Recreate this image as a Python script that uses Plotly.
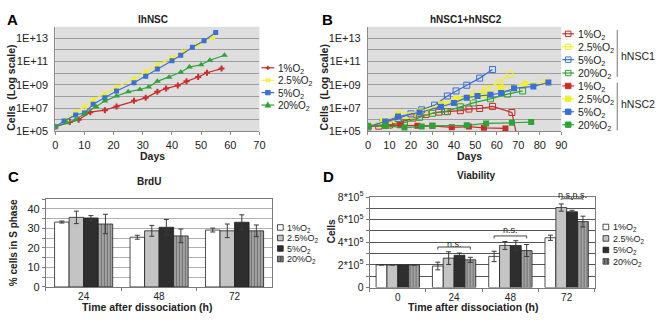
import plotly.graph_objects as go

W, H = 661, 320
FONT = "Liberation Sans"

# ---------------- Panel A: IhNSC (cells, log scale) ----------------
a_days_1 = [0, 5, 8, 12, 17, 21, 27, 31, 35, 38, 42, 45, 49, 52, 57]
a_cells_1 = [2.5e5, 6.3e5, 1.0e6, 4.5e6, 6.6e6, 1.4e7, 4.2e7, 7.6e7, 2.5e8, 4.8e8,
             8.9e8, 2.0e9, 4.8e9, 1.1e10, 2.5e10]
a_days_25 = [0, 4, 7, 10, 13, 17, 21, 27, 31, 35, 40, 44, 49, 54]
a_cells_25 = [2.5e5, 1.0e6, 4.5e6, 1.4e7, 5.2e7, 1.8e8, 6.3e8, 3.3e9, 1.4e10, 5.0e10,
              2.1e11, 7.1e11, 2.8e12, 1.2e13]
a_days_5 = [0, 3, 7, 10, 13, 17, 21, 27, 31, 35, 40, 43, 47, 51, 55]
a_cells_5 = [2.5e5, 7.6e5, 2.6e6, 3.8e6, 2.2e7, 7.9e7, 3.0e8, 1.5e9, 5.6e9, 2.3e10,
             1.2e11, 3.5e11, 1.7e12, 6.3e12, 3.2e13]
a_days_20 = [0, 4, 7, 10, 14, 17, 21, 25, 29, 32, 35, 39, 43, 46, 50, 53, 58]
a_cells_20 = [2.5e5, 5.5e5, 1.0e6, 3.2e6, 1.3e7, 4.0e7, 1.1e8, 2.5e8, 4.0e8, 6.5e8,
              2.0e9, 4.6e9, 1.2e10, 3.4e10, 5.4e10, 1.3e11, 3.5e11]

# ---------------- Panel B: hNSC1 (open) + hNSC2 (filled) ----------------
b1_days_1 = [0, 5, 10, 15, 21, 27, 33, 37, 43, 47, 52, 58, 67, 70]
b1_cells_1 = [2.5e5, 2.8e5, 3.5e5, 6.3e5, 1.4e6, 2.8e6, 4.5e6, 5.0e6, 6.0e6, 8.3e6,
              9.3e6, 1.4e7, 4.2e6, 1.0e4]
b1_days_25 = [0, 7, 14, 21, 28, 35, 42, 49, 55, 61, 66]
b1_cells_25 = [2.5e5, 4.0e5, 8.9e5, 2.2e6, 5.6e6, 2.0e7, 5.6e7, 1.6e8, 4.5e8, 1.6e9, 7.9e9]
b1_days_5 = [0, 7, 14, 20, 25, 31, 37, 41, 46, 52, 58]
b1_cells_5 = [2.5e5, 5.6e5, 1.3e6, 3.2e6, 7.1e6, 1.8e7, 1.1e8, 3.0e8, 9.3e8, 3.8e9, 2.1e10]
b1_days_20 = [0, 8, 17, 24, 30, 36, 43, 49, 57, 65, 72]
b1_cells_20 = [2.5e5, 3.2e5, 5.6e5, 1.6e6, 3.6e6, 5.0e6, 1.3e7, 2.8e7, 6.3e7, 1.6e8, 3.0e8]

b2_days_1 = [0, 8, 15, 23, 30, 39, 47, 54, 64]
b2_cells_1 = [2.6e5, 3.5e5, 3.3e5, 3.0e5, 3.0e5, 2.2e5, 2.6e5, 2.0e5, 1.8e5]
b2_days_25 = [0, 7, 14, 24, 34, 41, 47, 54, 62, 73, 83]
b2_cells_25 = [2.6e5, 7.9e5, 3.2e6, 5.0e6, 2.1e7, 6.3e7, 8.5e7, 1.4e8, 5.8e8, 1.2e9, 1.8e9]
b2_days_5 = [0, 8, 14, 24, 34, 40, 46, 51, 57, 62, 68, 77, 84]
b2_cells_5 = [2.6e5, 7.1e5, 1.9e6, 4.2e6, 1.3e7, 2.8e7, 7.9e7, 1.1e8, 1.4e8, 2.0e8,
              5.0e8, 7.4e8, 1.6e9]
b2_days_20 = [0, 8, 17, 25, 30, 46, 55, 67, 76]
b2_cells_20 = [3.0e5, 3.0e5, 2.1e5, 2.6e5, 3.0e5, 3.3e5, 4.8e5, 5.5e5, 6.3e5]

log_tickvals = [1e5, 1e6, 1e7, 1e8, 1e9, 1e10, 1e11, 1e12, 1e13, 1e14]
log_ticktext = ["1E+05", "", "1E+07", "", "1E+09", "", "1E+11", "", "1E+13", ""]

# ---------------- Panel C: BrdU ----------------
c_times = ["24", "48", "72"]
c_1 = [33.3, 25.5, 29.2]
c_1_err = [0.5, 1.0, 1.0]
c_25 = [35.7, 28.8, 28.8]
c_25_err = [3.2, 2.8, 3.5]
c_5 = [35.4, 30.6, 33.2]
c_5_err = [1.2, 4.0, 3.8]
c_20 = [32.3, 26.2, 28.8]
c_20_err = [5.0, 3.5, 3.0]
c_tickvals = [0, 5, 10, 15, 20, 25, 30, 35, 40, 45]
c_ticktext = ["0", "", "10", "", "20", "", "30", "", "40", ""]

# ---------------- Panel D: Viability ----------------
d_times = ["0", "24", "48", "72"]
d_1 = [2.0e5, 1.9e5, 2.75e5, 4.4e5]
d_1_err = [None, 0.34e5, 0.46e5, 0.23e5]
d_25 = [2.0e5, 2.6e5, 3.72e5, 7.07e5]
d_25_err = [None, 0.56e5, 0.35e5, 0.32e5]
d_5 = [2.0e5, 2.85e5, 3.72e5, 6.7e5]
d_5_err = [None, 0.2e5, 0.42e5, 0.13e5]
d_20 = [2.0e5, 2.45e5, 3.27e5, 5.83e5]
d_20_err = [None, 0.22e5, 0.53e5, 0.48e5]
d_tickvals = [0, 1e5, 2e5, 3e5, 4e5, 5e5, 6e5, 7e5, 8e5]
d_ticktext = ["0", "", "2*10<sup>5</sup>", "", "4*10<sup>5</sup>", "",
              "6*10<sup>5</sup>", "", "8*10<sup>5</sup>"]

labels = ["1%O<sub>2</sub>", "2.5%O<sub>2</sub>", "5%O<sub>2</sub>", "20%O<sub>2</sub>"]

RED, YEL, BLU, GRN = "#cc2b2b", "#f2ef2a", "#3b6fd6", "#2ea336"
WHITE, LGRAY, DGRAY, STRIPE = "#ffffff", "#c4c4c4", "#2e2e2e", "#9a9a9a"


def px(x):
    return x / W


def py(y):
    return 1 - y / H


fig = go.Figure()

# ---- A traces
for d, c, col, sym, sz in [
    (a_days_1, a_cells_1, RED, "cross", 5),
    (a_days_25, a_cells_25, YEL, "x", 5),
    (a_days_5, a_cells_5, BLU, "square", 5),
    (a_days_20, a_cells_20, GRN, "triangle-up", 6),
]:
    fig.add_trace(go.Scatter(x=d, y=c, mode="lines+markers", xaxis="x", yaxis="y",
                             line=dict(color=col, width=1.2),
                             marker=dict(symbol=sym, size=sz, color=col, line=dict(width=0))))

# ---- B traces
for d, c, col in [(b1_days_1, b1_cells_1, RED), (b1_days_25, b1_cells_25, YEL),
                  (b1_days_5, b1_cells_5, BLU), (b1_days_20, b1_cells_20, GRN)]:
    fig.add_trace(go.Scatter(x=d, y=c, mode="lines+markers", xaxis="x2", yaxis="y2",
                             line=dict(color=col, width=1.2),
                             marker=dict(symbol="square-open", size=6, color=col,
                                         line=dict(width=1, color=col))))
for d, c, col in [(b2_days_1, b2_cells_1, RED), (b2_days_25, b2_cells_25, YEL),
                  (b2_days_5, b2_cells_5, BLU), (b2_days_20, b2_cells_20, GRN)]:
    fig.add_trace(go.Scatter(x=d, y=c, mode="lines+markers", xaxis="x2", yaxis="y2",
                             line=dict(color=col, width=1.2),
                             marker=dict(symbol="square", size=6, color=col)))

# ---- C and D bars
err_style = dict(type="data", color="#3a3a3a", thickness=1, width=2.5)
bar_styles = [
    dict(color=WHITE, line=dict(color="#222", width=0.8)),
    dict(color=LGRAY, line=dict(color="#222", width=0.8)),
    dict(color=DGRAY, line=dict(color="#222", width=0.8)),
    dict(color=STRIPE, line=dict(color="#222", width=0.8),
         pattern=dict(shape="|", fgcolor="#3a3a3a", bgcolor="#a8a8a8", size=3, solidity=0.4)),
]
for vals, errs, st in zip([c_1, c_25, c_5, c_20], [c_1_err, c_25_err, c_5_err, c_20_err], bar_styles):
    fig.add_trace(go.Bar(x=c_times, y=vals, xaxis="x3", yaxis="y3", marker=st,
                         error_y=dict(array=errs, **err_style)))
for vals, errs, st in zip([d_1, d_25, d_5, d_20], [d_1_err, d_25_err, d_5_err, d_20_err], bar_styles):
    fig.add_trace(go.Bar(x=d_times, y=vals, xaxis="x4", yaxis="y4", marker=st,
                         error_y=dict(array=errs, **err_style)))

BARGAP = 0.23
tickfont = dict(family=FONT, size=11, color="#222")
bartickfont = dict(family=FONT, size=10, color="#222")

fig.update_layout(
    width=W, height=H, margin=dict(l=0, r=0, t=0, b=0),
    paper_bgcolor="white", plot_bgcolor="white", showlegend=False,
    font=dict(family=FONT, size=10, color="#222"),
    barmode="group", bargap=BARGAP, bargroupgap=0,
    xaxis=dict(domain=[px(53), px(260)], anchor="y", range=[0, 70], tick0=0, dtick=10,
               showgrid=False, zeroline=False, showline=True, linecolor="#8a8a8a",
               ticks="outside", ticklen=3, tickcolor="#8a8a8a", tickfont=tickfont),
    yaxis=dict(domain=[py(129), py(19.6)], anchor="x", type="log", range=[5, 14],
               tickvals=log_tickvals, ticktext=log_ticktext, showgrid=True,
               gridcolor="#9c9c9c", gridwidth=1, zeroline=False, showline=True,
               linecolor="#8a8a8a", ticks="", tickfont=tickfont, ticklabelstandoff=4),
    xaxis2=dict(domain=[px(370), px(566)], anchor="y2", range=[0, 90], tick0=0, dtick=10,
                showgrid=False, zeroline=False, showline=True, linecolor="#8a8a8a",
                ticks="outside", ticklen=3, tickcolor="#8a8a8a", tickfont=tickfont),
    yaxis2=dict(domain=[py(129), py(19.6)], anchor="x2", type="log", range=[5, 14],
                tickvals=log_tickvals, ticktext=log_ticktext, showgrid=True,
                gridcolor="#9c9c9c", gridwidth=1, zeroline=False, showline=True,
                linecolor="#8a8a8a", ticks="", tickfont=tickfont, ticklabelstandoff=4),
    xaxis3=dict(domain=[px(43.5), px(273)], anchor="y3", type="category",
                categoryorder="array", categoryarray=c_times, showgrid=False,
                showline=True, mirror=True, linecolor="#7a7a7a", ticks="outside",
                tickson="boundaries", ticklen=3, tickcolor="#7a7a7a", tickfont=bartickfont,
                ticklabelstandoff=0),
    yaxis3=dict(domain=[py(291.7), py(200)], anchor="x3", range=[0, 45],
                tickvals=c_tickvals, ticktext=c_ticktext, showgrid=True,
                gridcolor="#b0b0b0", gridwidth=1, zeroline=False, showline=True,
                mirror=True, linecolor="#7a7a7a", ticks="outside", ticklen=3,
                tickcolor="#7a7a7a", tickfont=tickfont),
    xaxis4=dict(domain=[px(371.7), px(600)], anchor="y4", type="category",
                categoryorder="array", categoryarray=d_times, showgrid=False,
                showline=True, mirror=True, linecolor="#7a7a7a", ticks="outside",
                tickson="boundaries", ticklen=3, tickcolor="#7a7a7a", tickfont=bartickfont,
                ticklabelstandoff=0),
    yaxis4=dict(domain=[py(292.3), py(197.7)], anchor="x4", range=[0, 8e5],
                tickvals=d_tickvals, ticktext=d_ticktext, showgrid=True,
                gridcolor="#555555", gridwidth=1, zeroline=False, showline=True,
                mirror=True, linecolor="#7a7a7a", ticks="outside", ticklen=3,
                tickcolor="#7a7a7a", tickfont=dict(family=FONT, size=10.5, color="#222")),
)

shapes = []
# gray plot backgrounds for A and B
for xr, yr in [("x domain", "y domain"), ("x2 domain", "y2 domain")]:
    shapes.append(dict(type="rect", xref=xr, yref=yr, x0=0, x1=1, y0=0, y1=1,
                       fillcolor="#dedede", line=dict(width=0), layer="below"))


def pline(x0, y0, x1, y1, color, width=1.2):
    shapes.append(dict(type="line", xref="paper", yref="paper", x0=px(x0), y0=py(y0),
                       x1=px(x1), y1=py(y1), line=dict(color=color, width=width)))


def prect(x0, y0, x1, y1, line, fill, width=1):
    shapes.append(dict(type="rect", xref="paper", yref="paper", x0=px(x0), y0=py(y0),
                       x1=px(x1), y1=py(y1), line=dict(color=line, width=width),
                       fillcolor=fill))


def ptri(cx, cy, s, color):
    path = "M {:.5f},{:.5f} L {:.5f},{:.5f} L {:.5f},{:.5f} Z".format(
        px(cx - s / 2), py(cy + s / 2.5), px(cx + s / 2), py(cy + s / 2.5), px(cx), py(cy - s / 1.7))
    shapes.append(dict(type="path", xref="paper", yref="paper", path=path,
                       fillcolor=color, line=dict(color=color, width=0.5)))


annotations = []


def ptext(x, y, text, size=10.5, xanchor="left", yanchor="middle", angle=0, color="#222"):
    annotations.append(dict(x=px(x), y=py(y), xref="paper", yref="paper", text=text,
                            showarrow=False, xanchor=xanchor, yanchor=yanchor,
                            textangle=angle, font=dict(family=FONT, size=size, color=color)))


# ---- Legend A
rowsA = [62.5, 75.5, 88.5, 101.5]
colsA = [RED, YEL, BLU, GRN]
for i, (r, col) in enumerate(zip(rowsA, colsA)):
    pline(262, r, 275, r, col)
    cx = 268.5
    if i == 0:
        pline(cx - 2.2, r, cx + 2.2, r, col, 1.6)
        pline(cx, r - 2.2, cx, r + 2.2, col, 1.6)
    elif i == 1:
        pline(cx - 2, r - 2, cx + 2, r + 2, col, 1.4)
        pline(cx - 2, r + 2, cx + 2, r - 2, col, 1.4)
    elif i == 2:
        prect(cx - 2.3, r - 2.3, cx + 2.3, r + 2.3, col, col)
    else:
        ptri(cx, r, 6, col)
    ptext(277, r + 1, labels[i], size=10)

# ---- Legend B
rowsB = [27, 40.5, 54, 68, 81.5, 95, 108.5, 122]
for i, r in enumerate(rowsB):
    col = colsA[i % 4]
    pline(567, r, 579, r, col)
    if i < 4:
        prect(570.2, r - 2.8, 575.8, r + 2.8, col, "rgba(0,0,0,0)", 1)
    else:
        prect(570.2, r - 2.8, 575.8, r + 2.8, col, col, 1)
    ptext(581, r + 1, labels[i % 4])
pline(622.7, 23, 622.7, 72, "#777", 1)
pline(622.7, 78, 622.7, 128, "#777", 1)
ptext(624.5, 50, "hNSC1", size=10.5)
ptext(624.5, 100, "hNSC2", size=10.5)

# ---- Legends C, D


def bar_legend(x0, rows, textx):
    fills = [WHITE, LGRAY, DGRAY, "#a8a8a8"]
    for i, r in enumerate(rows):
        prect(x0, r - 2.9, x0 + 5.8, r + 2.9, "#222", fills[i], 0.8)
        if i == 3:
            for dx in (1.5, 3.0, 4.5):
                pline(x0 + dx, r - 2.5, x0 + dx, r + 2.5, "#333", 0.8)
        ptext(textx, r + 1, labels[i], size=9)


bar_legend(278.3, [229.5, 240.5, 251.5, 262.5], 286)
bar_legend(608.3, [229, 241, 253, 265], 616)

# ---- Titles and axis titles
ptext(152, 12, "<b>IhNSC</b>", size=10, xanchor="center")
ptext(469, 12.5, "<b>hNSC1+hNSC2</b>", size=10, xanchor="center")
ptext(148, 181.5, "<b>BrdU</b>", size=10, xanchor="center")
ptext(480, 175, "<b>Viability</b>", size=10, xanchor="center")
ptext(152, 155, "<b>Days</b>", size=10.5, xanchor="center")
ptext(473, 155, "<b>Days</b>", size=10.5, xanchor="center")
ptext(147, 312.5, "<b>Time after dissociation (h)</b>", size=10.5, xanchor="center")
ptext(477, 312.5, "<b>Time after dissociation (h)</b>", size=10.5, xanchor="center")
ptext(8.5, 83, "<b>Cells\u00a0 (Log scale)</b>", size=10.5, xanchor="center", angle=-90)
ptext(325.5, 83, "<b>Cells\u00a0 (Log scale)</b>", size=10.5, xanchor="center", angle=-90)
ptext(10, 245, "<b>% cells in S phase</b>", size=10, xanchor="center", angle=-90)
ptext(333, 233, "<b>Cells</b>", size=10, xanchor="center", angle=-90)

# ---- Panel letters
for x, y, t in [(2, 12, "A"), (321, 12, "B"), (3, 176, "C"), (322, 176, "D")]:
    ptext(x, y, "<b>%s</b>" % t, size=15, color="#000")

# ---- n.s. brackets in D (positions derived from bar geometry)
bw = (1 - BARGAP) / 4
off = [(-1.5 + k) * bw for k in range(4)]


def dom_x(cat_idx, o):
    return (cat_idx + 0.5 + o) / 4


def bracket(cat_idx, k0, k1, yv, drop):
    xa, xb = dom_x(cat_idx, off[k0]), dom_x(cat_idx, off[k1])
    ya, yb = yv / 8e5, (yv - drop) / 8e5
    for (x0, y0, x1, y1) in [(xa, ya, xb, ya), (xa, ya, xa, yb), (xb, ya, xb, yb)]:
        shapes.append(dict(type="line", xref="x4 domain", yref="y4 domain",
                           x0=x0, y0=y0, x1=x1, y1=y1, line=dict(color="#333", width=0.9)))
    return (xa + xb) / 2


def ns_text(xm, ty, text):
    annotations.append(dict(x=xm, y=py(ty), xref="x4 domain", yref="paper", text=text,
                            showarrow=False, xanchor="center", yanchor="middle",
                            font=dict(family=FONT, size=9, color="#222")))


ns_text(bracket(1, 0, 3, 3.58e5, 0.22e5), 246.5, "n.s.")
ns_text(bracket(2, 0, 3, 4.56e5, 0.22e5), 232, "n.s.")
xm1 = bracket(3, 1, 2, 7.85e5, 0.1e5)
xm2 = bracket(3, 2, 3, 7.85e5, 0.1e5)
ns_text((xm1 + xm2) / 2, 195.5, "n.s.n.s.")

fig.update_layout(shapes=shapes, annotations=annotations)
fig.write_html("out.html", config={"displayModeBar": False, "staticPlot": True},
               post_script="document.body.style.margin='0px';")
